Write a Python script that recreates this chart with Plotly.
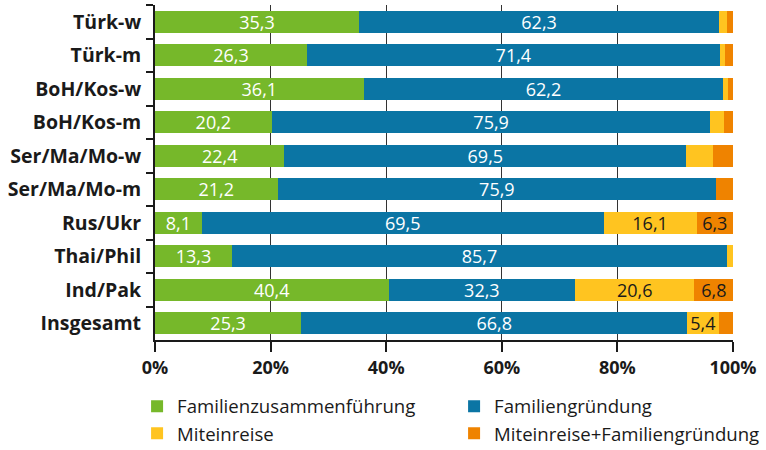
import plotly.graph_objects as go

categories = ["Türk-w", "Türk-m", "BoH/Kos-w", "BoH/Kos-m", "Ser/Ma/Mo-w",
              "Ser/Ma/Mo-m", "Rus/Ukr", "Thai/Phil", "Ind/Pak", "Insgesamt"]

familienzusammenfuehrung = [35.3, 26.3, 36.1, 20.2, 22.4, 21.2, 8.1, 13.3, 40.4, 25.3]
familiengruendung = [62.3, 71.4, 62.2, 75.9, 69.5, 75.9, 69.5, 85.7, 32.3, 66.8]
miteinreise = [1.4, 1.0, 0.9, 2.3, 4.6, 0.0, 16.1, 1.0, 20.6, 5.4]
miteinreise_familiengruendung = [1.0, 1.3, 0.8, 1.6, 3.5, 2.9, 6.3, 0.0, 6.8, 2.5]

series_names = ["Familienzusammenführung", "Familiengründung", "Miteinreise",
                "Miteinreise+Familiengründung"]
tick_values = [0, 20, 40, 60, 80, 100]
tick_labels = ["0%", "20%", "40%", "60%", "80%", "100%"]

colors = ["#76B82A", "#0B75A4", "#FFC420", "#EF8300"]
text_colors = ["white", "white", "#1a1a1a", "#1a1a1a"]
FONT = "Open Sans"


def fmt(v):
    return f"{v:.1f}".replace(".", ",") if v >= 5 else ""


fig = go.Figure()
for name, vals, col, tcol in zip(series_names,
                                 [familienzusammenfuehrung, familiengruendung,
                                  miteinreise, miteinreise_familiengruendung],
                                 colors, text_colors):
    fig.add_trace(go.Bar(
        y=categories, x=vals, name=name, orientation="h",
        marker=dict(color=col, line=dict(width=0)),
        text=[fmt(v) for v in vals], textposition="inside",
        insidetextanchor="middle", textangle=0,
        textfont=dict(family=FONT, size=18, color=tcol),
        hoverinfo="skip",
    ))

fig.update_layout(
    barmode="stack",
    bargap=0.33,
    width=766, height=450,
    margin=dict(l=155, r=33, t=5, b=110, autoexpand=False),
    paper_bgcolor="white", plot_bgcolor="white",
    font=dict(family=FONT, size=18, color="#1a1a1a"),
    uniformtext=dict(minsize=18, mode="show"),
    showlegend=True,
    legend=dict(
        orientation="h", xref="paper", yref="paper",
        x=-0.031, xanchor="left", y=-0.142, yanchor="top",
        entrywidth=272, entrywidthmode="pixels",
        font=dict(family=FONT, size=18.6, color="#1a1a1a"),
        traceorder="normal", itemclick=False,
    ),
)

fig.update_xaxes(
    range=[0, 100], tickvals=tick_values, ticktext=tick_labels,
    showline=True, linecolor="#1a1a1a", linewidth=2,
    ticks="outside", ticklen=10, tickwidth=2, tickcolor="#1a1a1a",
    tickfont=dict(family=FONT, size=18, color="#1a1a1a", weight="bold"),
    showgrid=True, gridcolor="#333333", gridwidth=1,
    zeroline=False, fixedrange=True, automargin=False,
)
fig.update_yaxes(
    autorange="reversed", type="category",
    showline=True, linecolor="#1a1a1a", linewidth=2,
    ticks="outside", ticklen=7, tickwidth=2, tickcolor="#1a1a1a",
    tickson="boundaries",
    tickfont=dict(family=FONT, size=19.5, color="#1a1a1a", weight="bold"),
    showgrid=False, fixedrange=True, ticklabelstandoff=8, automargin=False,
)

fig.write_html("out.html",
               config={"displayModeBar": False, "staticPlot": True},
               post_script="document.body.style.margin='0';document.body.style.padding='0';")
